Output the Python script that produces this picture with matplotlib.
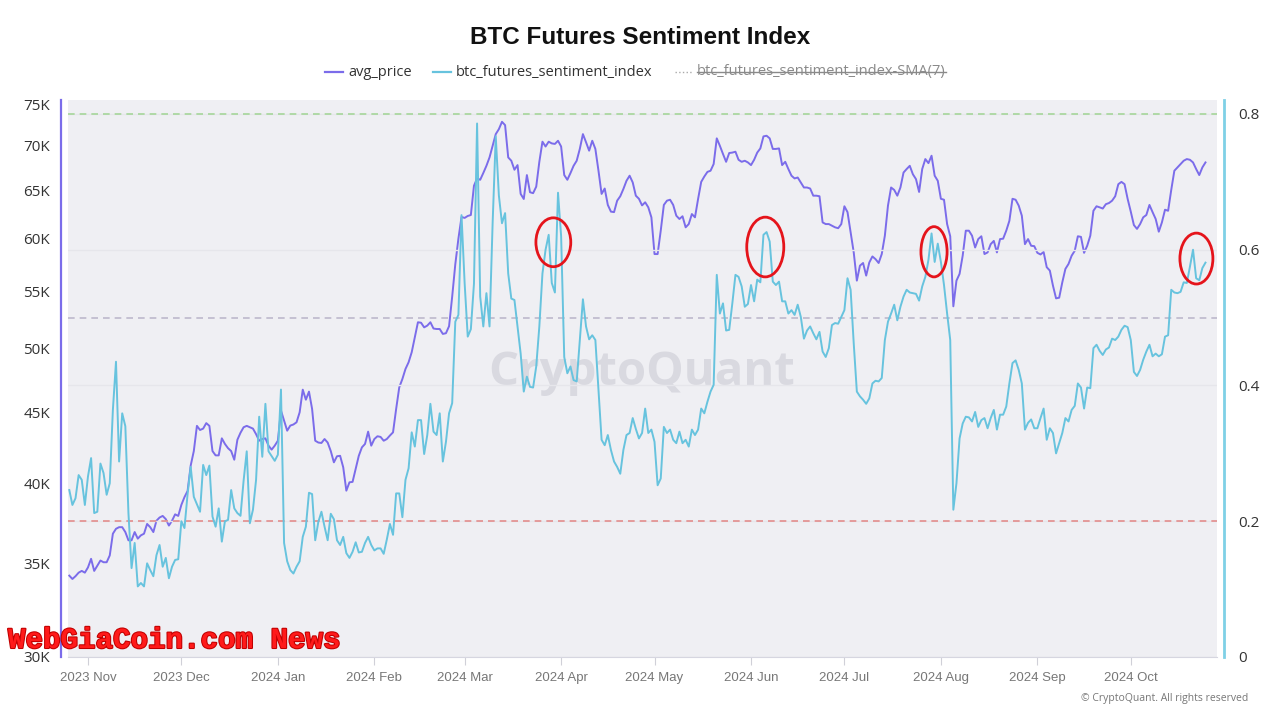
import matplotlib
matplotlib.use('Agg')
import matplotlib.pyplot as plt
import matplotlib.dates as mdates
from matplotlib.lines import Line2D
from matplotlib.patches import Ellipse
from matplotlib.ticker import FixedLocator, FuncFormatter, NullLocator
import matplotlib.patheffects as pe
import pandas as pd

plt.rcParams['font.family'] = ['Open Sans', 'DejaVu Sans']

# daily values, 2023-10-26 .. 2024-10-25
dates = pd.date_range('2023-10-26', periods=366, freq='D')

avg_price_k = [
    34.33, 34.14, 34.3, 34.5, 34.6, 34.5, 34.8, 35.3, 34.6, 34.9,
    35.2, 35.1, 35.1, 35.5, 36.8, 37.1, 37.2, 37.2, 36.9, 36.4,
    36.4, 36.9, 36.5, 36.7, 36.8, 37.4, 37.2, 36.9, 37.6, 37.8,
    37.9, 37.7, 37.3, 37.6, 38.0, 37.9, 38.6, 39.1, 39.5, 41.2,
    42.2, 44.0, 43.7, 43.8, 44.2, 44.0, 42.2, 41.9, 41.9, 43.1,
    42.7, 42.4, 42.2, 41.6, 43.0, 43.5, 43.9, 44.0, 43.9, 43.8,
    43.4, 42.93, 43.05, 43.1, 42.58, 42.3, 42.58, 42.93, 45.13, 44.38,
    43.65, 44.02, 44.1, 44.26, 45.0, 46.72, 45.95, 46.57, 45.25, 42.93,
    42.8, 42.77, 43.05, 42.8, 42.2, 41.42, 41.84, 41.87, 41.08, 39.52,
    40.07, 40.1, 40.96, 41.87, 42.46, 42.7, 43.58, 42.58, 43.05, 43.25,
    43.2, 42.93, 43.05, 43.3, 43.53, 45.25, 46.9, 47.55, 48.35, 48.89,
    49.71, 50.95, 52.24, 52.2, 51.8, 51.95, 52.24, 51.7, 51.66, 51.66,
    51.24, 51.3, 51.9, 54.5, 57.5, 60.0, 62.2, 62.1, 62.3, 62.4,
    65.5, 66.3, 66.15, 66.9, 67.7, 68.65, 70.0, 71.35, 71.94, 72.82,
    72.42, 68.65, 68.27, 67.26, 67.78, 64.62, 64.08, 66.67, 64.8, 64.7,
    65.4, 68.15, 70.46, 69.9, 70.46, 70.26, 70.2, 70.57, 69.9, 66.67,
    66.15, 66.89, 67.7, 68.27, 69.62, 71.35, 70.4, 69.42, 70.57, 69.62,
    67.15, 64.62, 65.2, 63.45, 62.75, 62.7, 63.9, 64.37, 65.15, 66.04,
    66.6, 65.86, 64.43, 64.1, 63.4, 63.73, 63.2, 62.16, 58.49, 58.49,
    60.8, 63.45, 63.9, 64.0, 63.45, 62.33, 61.99, 62.27, 61.14, 61.47,
    62.5, 62.16, 64.08, 65.92, 66.51, 67.02, 67.15, 67.9, 70.85, 69.98,
    69.04, 68.15, 69.15, 69.2, 69.3, 68.38, 68.15, 68.27, 68.08, 67.78,
    68.38, 69.2, 69.68, 71.08, 71.16, 70.85, 69.62, 69.62, 69.68, 67.78,
    68.15, 67.34, 66.6, 66.3, 66.4, 65.86, 65.31, 65.31, 65.2, 64.43,
    64.43, 64.37, 61.64, 61.47, 61.47, 61.3, 61.14, 61.05, 61.47, 63.31,
    62.7, 60.65, 58.65, 55.97, 57.38, 57.63, 56.44, 57.68, 58.26, 58.0,
    57.63, 58.49, 60.3, 63.38, 65.31, 65.05, 64.43, 65.31, 66.95, 67.34,
    67.7, 66.76, 66.22, 64.83, 67.34, 68.46, 68.0, 68.84, 66.6, 66.04,
    64.1, 64.0, 61.47, 60.24, 53.64, 55.97, 56.6, 58.33, 60.8, 60.8,
    60.3, 59.13, 59.96, 60.24, 58.49, 58.65, 59.46, 59.78, 58.65, 59.96,
    60.0, 60.8, 61.8, 64.1, 64.0, 63.38, 62.33, 59.46, 59.96, 59.3,
    59.26, 58.61, 58.45, 58.69, 57.23, 56.91, 55.51, 54.35, 54.41, 55.81,
    57.07, 57.54, 58.33, 58.81, 60.24, 60.18, 58.61, 59.3, 60.3, 62.84,
    63.31, 63.2, 63.07, 63.53, 63.65, 63.9, 64.37, 65.67, 65.92, 65.67,
    64.08, 62.75, 61.37, 60.98, 61.47, 62.16, 62.4, 63.45, 62.7, 61.99,
    60.7, 61.64, 62.95, 62.84, 65.05, 67.15, 67.52, 67.9, 68.27, 68.46,
    68.38, 68.08, 67.34, 66.67, 67.52, 68.08,
]

sentiment = [
    0.246, 0.224, 0.234, 0.268, 0.261, 0.224, 0.266, 0.293, 0.212, 0.214,
    0.285, 0.271, 0.239, 0.256, 0.364, 0.435, 0.288, 0.359, 0.34, 0.212,
    0.131, 0.168, 0.104, 0.109, 0.104, 0.138, 0.128, 0.119, 0.15, 0.165,
    0.133, 0.146, 0.116, 0.133, 0.143, 0.144, 0.2, 0.19, 0.24, 0.28,
    0.236, 0.225, 0.214, 0.283, 0.268, 0.282, 0.207, 0.192, 0.219, 0.17,
    0.2, 0.202, 0.246, 0.219, 0.212, 0.208, 0.26, 0.303, 0.197, 0.217,
    0.261, 0.354, 0.295, 0.373, 0.303, 0.296, 0.289, 0.298, 0.394, 0.168,
    0.141, 0.128, 0.123, 0.133, 0.141, 0.177, 0.192, 0.242, 0.24, 0.172,
    0.199, 0.214, 0.192, 0.172, 0.211, 0.203, 0.172, 0.165, 0.177, 0.153,
    0.146, 0.155, 0.169, 0.154, 0.155, 0.168, 0.177, 0.165, 0.157, 0.16,
    0.16, 0.152, 0.173, 0.196, 0.18, 0.241, 0.241, 0.206, 0.261, 0.278,
    0.331, 0.31, 0.349, 0.349, 0.299, 0.327, 0.373, 0.332, 0.327, 0.359,
    0.288, 0.317, 0.359, 0.374, 0.494, 0.504, 0.651, 0.551, 0.472, 0.483,
    0.55, 0.786, 0.531, 0.487, 0.536, 0.487, 0.64, 0.767, 0.68, 0.639,
    0.654, 0.565, 0.528, 0.526, 0.487, 0.447, 0.391, 0.413, 0.398, 0.397,
    0.428, 0.487, 0.565, 0.60, 0.622, 0.551, 0.537, 0.684, 0.62, 0.442,
    0.418, 0.428, 0.408, 0.406, 0.467, 0.527, 0.487, 0.468, 0.474, 0.467,
    0.393, 0.32, 0.312, 0.327, 0.305, 0.288, 0.28, 0.27, 0.305, 0.327,
    0.33, 0.352, 0.336, 0.322, 0.33, 0.366, 0.33, 0.335, 0.317, 0.253,
    0.263, 0.339, 0.33, 0.335, 0.32, 0.315, 0.332, 0.315, 0.32, 0.31,
    0.335, 0.327, 0.335, 0.366, 0.359, 0.376, 0.391, 0.401, 0.563, 0.506,
    0.521, 0.481, 0.482, 0.521, 0.563, 0.56, 0.546, 0.516, 0.52, 0.548,
    0.524, 0.556, 0.552, 0.622, 0.626, 0.612, 0.553, 0.548, 0.553, 0.524,
    0.524, 0.506, 0.511, 0.504, 0.519, 0.501, 0.469, 0.481, 0.487, 0.477,
    0.468, 0.479, 0.45, 0.442, 0.455, 0.489, 0.492, 0.491, 0.501, 0.511,
    0.558, 0.541, 0.462, 0.391, 0.384, 0.379, 0.373, 0.381, 0.403, 0.407,
    0.406, 0.411, 0.467, 0.494, 0.506, 0.519, 0.496, 0.516, 0.531, 0.541,
    0.537, 0.536, 0.535, 0.525, 0.546, 0.56, 0.585, 0.624, 0.582, 0.609,
    0.582, 0.548, 0.506, 0.467, 0.217, 0.256, 0.322, 0.344, 0.354, 0.353,
    0.347, 0.361, 0.339, 0.349, 0.352, 0.337, 0.352, 0.364, 0.335, 0.357,
    0.357, 0.369, 0.403, 0.433, 0.437, 0.423, 0.403, 0.335, 0.345, 0.35,
    0.337, 0.337, 0.352, 0.366, 0.32, 0.337, 0.33, 0.3, 0.315, 0.33,
    0.352, 0.347, 0.364, 0.37, 0.403, 0.397, 0.366, 0.397, 0.396, 0.455,
    0.46, 0.451, 0.445, 0.453, 0.456, 0.469, 0.467, 0.472, 0.482, 0.488,
    0.486, 0.467, 0.42, 0.414, 0.423, 0.438, 0.45, 0.46, 0.443, 0.447,
    0.443, 0.446, 0.472, 0.474, 0.541, 0.537, 0.536, 0.538, 0.552, 0.551,
    0.575, 0.6, 0.558, 0.555, 0.573, 0.581,
]

price_ticks = [30, 35, 40, 45, 50, 55, 60, 65, 70, 75]
sentiment_ticks = [0, 0.2, 0.4, 0.6, 0.8]
ref_levels = [0.8, 0.5, 0.2]
ref_colors = ['#a6d69a', '#bdb8cc', '#e38d8d']
month_ticks = pd.date_range('2023-11-01', '2024-10-01', freq='MS')

# red highlight circles: centre date, sentiment value, width (days), height
circle_dates = ['2024-03-29 12:00', '2024-06-05 14:00', '2024-07-29 19:00', '2024-10-22 02:00']
circle_vals = [0.611, 0.604, 0.597, 0.587]
circle_w = [11.2, 11.9, 8.4, 10.6]
circle_h = [0.072, 0.088, 0.074, 0.075]

PURPLE = '#7b6cea'
CYAN = '#67c3de'

W, H = 1280, 720
fig = plt.figure(figsize=(12.8, 7.2), dpi=100)
fig.patch.set_facecolor('white')
ax = fig.add_axes([68 / W, 1 - 657 / H, (1217 - 68) / W, 557 / H])
ax.set_facecolor('#efeff3')
ax2 = ax.twinx()

# price axis (log)
ax.plot(dates, avg_price_k, color=PURPLE, lw=1.4, zorder=3)
ax.set_yscale('log')
ax.set_ylim(30, 75.5)
ax.yaxis.set_major_locator(FixedLocator(price_ticks))
ax.yaxis.set_minor_locator(NullLocator())
ax.yaxis.set_major_formatter(FuncFormatter(lambda v, p: f'{v:g}K'))
ax.tick_params(axis='y', length=0, pad=8, labelsize=11, labelcolor='#333333')

t0 = dates[0]
ax.set_xlim(t0 - pd.Timedelta(hours=10), t0 + pd.Timedelta(days=368.7))
ax.xaxis.set_major_locator(FixedLocator(mdates.date2num(month_ticks)))
ax.xaxis.set_major_formatter(mdates.DateFormatter('%Y %b'))
ax.tick_params(axis='x', length=6, color='#d0d0d8', labelcolor='#777777',
               labelsize=9.5, pad=11)
for lab in ax.get_xticklabels():
    lab.set_verticalalignment('baseline')
    lab.set_fontfamily(['Liberation Sans', 'DejaVu Sans'])

for s in ['top', 'right']:
    ax.spines[s].set_visible(False)
ax.spines['bottom'].set_color('#d6d6e0')
ax.spines['left'].set_position(('outward', 5))
ax.spines['left'].set_color(PURPLE)
ax.spines['left'].set_linewidth(1.6)

ax.text(0.4996, 0.51, 'CryptoQuant', transform=ax.transAxes, ha='center', va='center',
        fontsize=34, fontweight='bold', color='#d9d9e0', zorder=1)

# sentiment axis
ax2.set_ylim(0, 0.8206)
ax2.yaxis.set_major_locator(FixedLocator(sentiment_ticks))
ax2.yaxis.set_major_formatter(FuncFormatter(lambda v, p: f'{v:g}'))
ax2.tick_params(axis='y', length=0, pad=10, labelsize=11, labelcolor='#333333')
ax2.grid(axis='y', color='#e6e6eb', lw=1)
for s in ['top', 'left', 'bottom']:
    ax2.spines[s].set_visible(False)
ax2.spines['right'].set_position(('outward', 5))
ax2.spines['right'].set_color('#7fd0e6')
ax2.spines['right'].set_linewidth(2)

for lvl, c in zip(ref_levels, ref_colors):
    ax2.axhline(lvl, color=c, lw=1.2, ls=(0, (4, 3)), zorder=2)

ax2.plot(dates, sentiment, color=CYAN, lw=1.4, zorder=3)

for d, v, w, h in zip(circle_dates, circle_vals, circle_w, circle_h):
    e = Ellipse((mdates.date2num(pd.Timestamp(d)), v), w, h, fill=False,
                edgecolor='#e5141b', lw=2, zorder=5)
    ax2.add_patch(e)

# title and legend
fig.text(0.5, 1 - 37 / H, 'BTC Futures Sentiment Index', ha='center', va='center',
         fontsize=17.5, fontweight='bold', color='#111111',
         family=['Liberation Sans', 'DejaVu Sans'])

ly = 1 - 72 / H
fig.add_artist(Line2D([325 / W, 343 / W], [ly, ly], color=PURPLE, lw=1.6))
fig.text(348 / W, ly, 'avg_price', ha='left', va='center', fontsize=10.5, color='#333333')
fig.add_artist(Line2D([433 / W, 451 / W], [ly, ly], color=CYAN, lw=1.6))
fig.text(456 / W, ly, 'btc_futures_sentiment_index', ha='left', va='center',
         fontsize=10.5, color='#333333')
fig.add_artist(Line2D([675 / W, 692 / W], [ly, ly], color='#aaaaaa', lw=1, ls=':'))
hid = fig.text(697 / W, ly, 'btc_futures_sentiment_index-SMA(7)', ha='left', va='center',
               fontsize=10.5, color='#8a8a8a')

fig.text(8 / W, 1 - 640 / H, 'WebGiaCoin.com News', ha='left', va='center',
         fontsize=21, fontweight='bold', color='#ff1a1a',
         family=['Liberation Mono', 'DejaVu Sans Mono'],
         path_effects=[pe.withStroke(linewidth=1.5, foreground='#c00000')])

fig.text(1248 / W, 1 - 698 / H, '\u00a9 CryptoQuant. All rights reserved', ha='right',
         va='center', fontsize=7.5, color='#777777')

fig.canvas.draw()
bb = hid.get_window_extent(fig.canvas.get_renderer())
sy = (bb.y0 + bb.y1) / 2 / H
fig.add_artist(Line2D([bb.x0 / W, bb.x1 / W], [sy, sy], color='#8a8a8a', lw=1))

fig.savefig('out.png', dpi=100)
